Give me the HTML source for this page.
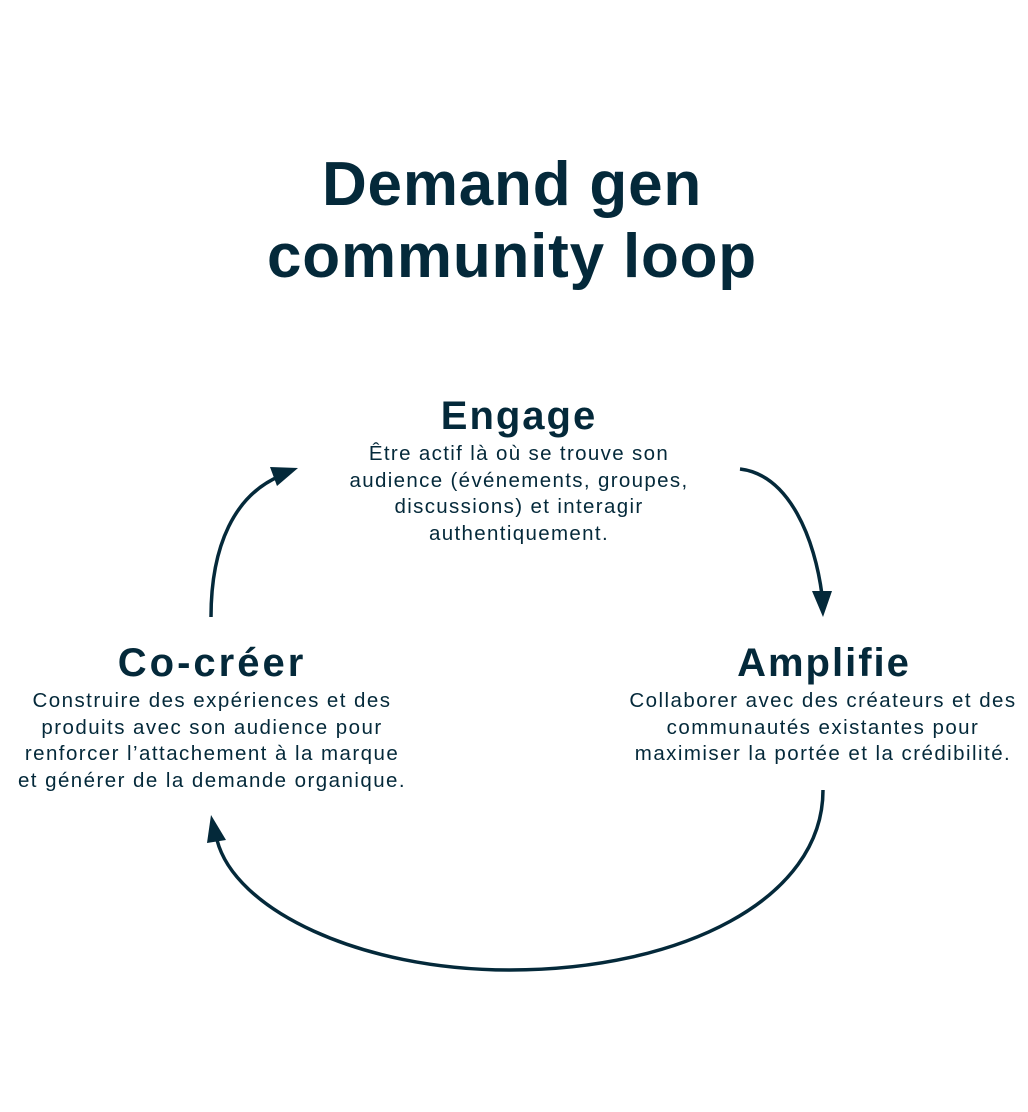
<!DOCTYPE html>
<html><head><meta charset="utf-8"><style>
html,body{margin:0;padding:0;background:#fff;}
body{width:1028px;height:1112px;position:relative;overflow:hidden;font-family:"Liberation Sans",sans-serif;color:#04293a;}
.c{position:absolute;text-align:center;white-space:nowrap;transform:translateX(-50%);}
.t{font-weight:bold;font-size:62px;line-height:72px;top:149px;left:512px;letter-spacing:0.8px;}
.h{font-weight:bold;font-size:40px;line-height:44px;letter-spacing:2px;}
.b{font-size:20.5px;line-height:26.6px;letter-spacing:1.45px;}
</style></head><body>
<div class="c t">Demand gen<br>community loop</div>
<div class="c h" style="left:519px;top:394px;">Engage</div>
<div class="c b" style="left:519px;top:441px;letter-spacing:1.35px;">Être actif là où se trouve son<br>audience (événements, groupes,<br>discussions) et interagir<br>authentiquement.</div>
<div class="c h" style="left:212px;top:641px;letter-spacing:3px;">Co-créer</div>
<div class="c b" style="left:212px;top:688px;">Construire des expériences et des<br>produits avec son audience pour<br>renforcer l’attachement à la marque<br>et générer de la demande organique.</div>
<div class="c h" style="left:824px;top:641px;">Amplifie</div>
<div class="c b" style="left:823px;top:688px;">Collaborer avec des créateurs et des<br>communautés existantes pour<br>maximiser la portée et la crédibilité.</div>
<svg width="1028" height="1112" style="position:absolute;left:0;top:0" viewBox="0 0 1028 1112">
<g fill="none" stroke="#04293a" stroke-width="3.5">
<path d="M740 469 C790 475 815 540 822 595"/>
<path d="M211 617 C211 545 235 495 280 476"/>
<path d="M823 790 C823 900 680 970 510 970 C360 970 235 910 217 840"/>
</g>
<g fill="#04293a">
<polygon points="812,591 832,591 823,617"/>
<polygon points="298,468 270,467 277,486"/>
<polygon points="211,815 207,843 226,840"/>
</g>
</svg>
</body></html>
